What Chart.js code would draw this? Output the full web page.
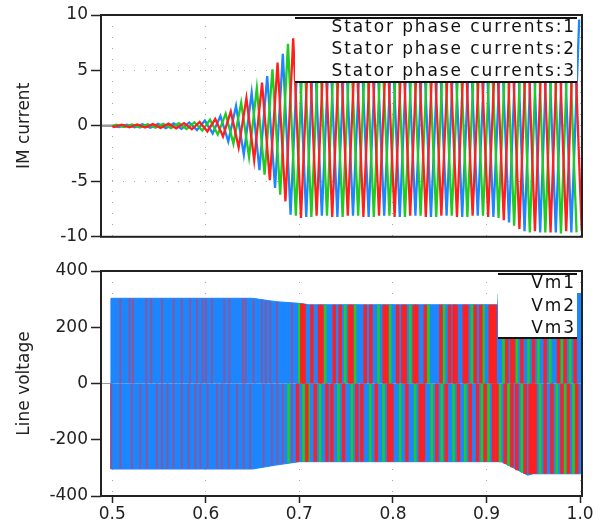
<!DOCTYPE html>
<html>
<head>
<meta charset="utf-8">
<script src="https://cdn.jsdelivr.net/npm/chart.js@4.4.1/dist/chart.umd.min.js"></script>
<style>
  html, body { margin: 0; padding: 0; background: #fff; }
  #wrap { position: relative; width: 608px; height: 525px; }
  .pane { position: absolute; left: 0; width: 608px; }
</style>
</head>
<body>
<div id="wrap">
  <div class="pane" style="top:0;height:250px"><canvas id="cur"></canvas></div>
  <div class="pane" style="top:250px;height:275px"><canvas id="volt"></canvas></div>
</div>
<script>
// ---- data ----
const timeTicks = [0.5, 0.6, 0.7, 0.8, 0.9, 1.0];
const currentTicks = [-10, -5, 0, 5, 10];
const voltageTicks = [-400, -200, 0, 200, 400];
const currentNames = ["Stator phase currents:1", "Stator phase currents:2", "Stator phase currents:3"];
const voltageNames = ["Vm1", "Vm2", "Vm3"];

// stator currents: [time, extreme value] per half cycle
const current1 = [
  [0.488, 0], [0.500, 0], [0.5017, -0.10], [0.5101, 0.11], [0.5184, -0.12], [0.5267, 0.13], [0.5351, -0.15],
  [0.5434, 0.16], [0.5517, -0.18], [0.5601, 0.20], [0.5684, -0.23], [0.5767, 0.25], [0.5851, -0.30],
  [0.5934, 0.36], [0.6017, -0.50], [0.6101, 0.62], [0.6184, -0.95], [0.6267, 1.30], [0.6351, -1.95],
  [0.6434, 2.50], [0.6517, -3.10], [0.6601, 3.90], [0.6684, -4.90], [0.6767, 5.70], [0.6851, -6.80],
  [0.6934, 7.90], [0.7017, -8.30], [0.7101, 8.2], [0.7184, -8.1], [0.7267, 8.2], [0.7351, -8.2],
  [0.7434, 8.2], [0.7517, -8.1], [0.7601, 8.2], [0.7684, -8.2], [0.7767, 8.2], [0.7851, -8.1],
  [0.7934, 8.2], [0.8017, -8.2], [0.8101, 8.2], [0.8184, -8.1], [0.8267, 8.2], [0.8351, -8.2],
  [0.8434, 8.2], [0.8517, -8.1], [0.8601, 8.2], [0.8684, -8.2], [0.8767, 8.2], [0.8851, -8.1],
  [0.8934, 8.2], [0.9017, -8.2], [0.9101, 8.3], [0.9184, -8.5], [0.9267, 8.9], [0.9351, -9.3],
  [0.9434, 9.5], [0.9517, -9.5], [0.9601, 9.5], [0.9684, -9.6], [0.9767, 9.5], [0.9851, -9.5],
  [0.9934, 9.5], [1.0017, -9.5]
];
const current2 = [
  [0.488, 0], [0.500, 0], [0.5045, 0.10], [0.5128, -0.11], [0.5212, 0.12], [0.5295, -0.14], [0.5378, 0.15],
  [0.5462, -0.17], [0.5545, 0.19], [0.5628, -0.21], [0.5712, 0.24], [0.5795, -0.28], [0.5878, 0.33],
  [0.5962, -0.42], [0.6045, 0.55], [0.6128, -0.78], [0.6212, 1.10], [0.6295, -1.60], [0.6378, 2.10],
  [0.6462, -2.80], [0.6545, 3.40], [0.6628, -4.40], [0.6712, 5.10], [0.6795, -6.20], [0.6878, 7.40],
  [0.6962, -8.10], [0.7045, 8.2], [0.7128, -8.2], [0.7212, 8.2], [0.7295, -8.1], [0.7378, 8.2],
  [0.7462, -8.2], [0.7545, 8.2], [0.7628, -8.1], [0.7712, 8.2], [0.7795, -8.2], [0.7878, 8.2],
  [0.7962, -8.1], [0.8045, 8.2], [0.8128, -8.2], [0.8212, 8.2], [0.8295, -8.1], [0.8378, 8.2],
  [0.8462, -8.2], [0.8545, 8.2], [0.8628, -8.1], [0.8712, 8.2], [0.8795, -8.2], [0.8878, 8.2],
  [0.8962, -8.1], [0.9045, 8.2], [0.9128, -8.3], [0.9212, 8.6], [0.9295, -9.0], [0.9378, 9.4],
  [0.9462, -9.6], [0.9545, 9.5], [0.9628, -9.6], [0.9712, 9.5], [0.9795, -9.7], [0.9878, 9.5],
  [0.9962, -9.6]
];
const current3 = [
  [0.488, 0], [0.500, 0], [0.5073, -0.10], [0.5156, 0.11], [0.5240, -0.13], [0.5323, 0.14], [0.5406, -0.16],
  [0.5490, 0.18], [0.5573, -0.20], [0.5656, 0.22], [0.5740, -0.26], [0.5823, 0.30], [0.5906, -0.38],
  [0.5990, 0.48], [0.6073, -0.68], [0.6156, 0.90], [0.6240, -1.40], [0.6323, 1.80], [0.6406, -2.60],
  [0.6490, 3.00], [0.6573, -4.00], [0.6656, 4.50], [0.6740, -5.60], [0.6823, 6.50], [0.6906, -8.00],
  [0.6990, 8.2], [0.7073, -8.2], [0.7156, 8.2], [0.7240, -8.1], [0.7323, 8.2], [0.7406, -8.2],
  [0.7490, 8.2], [0.7573, -8.1], [0.7656, 8.2], [0.7740, -8.2], [0.7823, 8.2], [0.7906, -8.1],
  [0.7990, 8.2], [0.8073, -8.2], [0.8156, 8.2], [0.8240, -8.1], [0.8323, 8.2], [0.8406, -8.2],
  [0.8490, 8.2], [0.8573, -8.1], [0.8656, 8.2], [0.8740, -8.2], [0.8823, 8.2], [0.8906, -8.1],
  [0.8990, 8.2], [0.9073, -8.2], [0.9156, 8.4], [0.9240, -8.7], [0.9323, 9.1], [0.9406, -9.5],
  [0.9490, 9.5], [0.9573, -9.6], [0.9656, 9.5], [0.9740, -9.6], [0.9823, 9.5], [0.9906, -9.6],
  [0.9990, 9.6]
];

// line voltages: Vm3 is seen as a solid switching band (upper / lower envelope),
// Vm1 and Vm2 show through as single pulses [time, pulse value]
const vm3Upper = [
  [0.488, 0], [0.4985, 0], [0.4986, 303], [0.650, 303], [0.675, 291], [0.700, 285], [0.710, 280],
  [0.912, 280], [0.9125, 320], [1.002, 320]
];
const vm3Lower = [
  [0.488, 0], [0.4985, 0], [0.4986, -304], [0.650, -304], [0.675, -290], [0.700, -278], [0.916, -278],
  [0.944, -326], [0.950, -321], [1.002, -321]
];
const vm1Pulses = [
  [0.5086, 303], [0.5185, 303], [0.5221, 303], [0.5363, 303], [0.5417, 303], [0.5531, 303], [0.5655, 303],
  [0.5744, 303], [0.5833, 303], [0.5905, 303], [0.5965, 303], [0.6001, 303], [0.6065, 303], [0.6197, 303],
  [0.6254, 303], [0.6396, 303], [0.6425, 303], [0.6510, 298], [0.6599, 295], [0.6642, 294], [0.6688, 292],
  [0.6759, 290], [0.6920, 286], [0.7026, 284], [0.7040, 283], [0.7050, 283],
  [0.7133, 280], [0.7215, 280], [0.7240, 280], [0.7372, 280], [0.7436, 280], [0.7536, 280], [0.7561, 280],
  [0.7703, 280], [0.7764, 280], [0.7906, 280], [0.7935, 280], [0.8049, 280], [0.8106, 280], [0.8131, 280],
  [0.8227, 280], [0.8255, 280], [0.8344, 280], [0.8512, 280], [0.8604, 280], [0.8654, 280], [0.8675, 280],
  [0.8761, 280], [0.8789, 280], [0.8879, 280], [0.8939, 280], [0.9039, 280], [0.9067, 280], [0.9092, 280],
  [0.9217, 320], [0.9270, 320], [0.9288, 320], [0.9377, 320], [0.9502, 320], [0.9626, 320], [0.9769, 320],
  [0.9840, 320], [0.9947, 320],
  [0.4990, -304], [0.5086, -304], [0.5210, -304], [0.5299, -304], [0.5370, -304], [0.5477, -304],
  [0.5531, -304], [0.5591, -304], [0.5655, -304], [0.5744, -304], [0.5816, -304], [0.5887, -304],
  [0.5940, -304], [0.6019, -304], [0.6118, -304], [0.6172, -304], [0.6243, -304], [0.6332, -304],
  [0.6403, -304], [0.6474, -304], [0.6617, -296], [0.6706, -292], [0.6766, -288], [0.6823, -284],
  [0.6920, -280], [0.6980, -278],
  [0.7080, -278], [0.7169, -278], [0.7294, -278], [0.7347, -278], [0.7472, -278], [0.7614, -278],
  [0.7668, -278], [0.7821, -278], [0.7953, -278], [0.7988, -278], [0.8148, -278], [0.8291, -278],
  [0.8326, -278], [0.8469, -278], [0.8569, -278], [0.8700, -278], [0.8825, -278], [0.8903, -278],
  [0.8985, -278], [0.9074, -278], [0.9110, -278],
  [0.9199, -285], [0.9270, -298], [0.9324, -308], [0.9413, -322], [0.9466, -322], [0.9493, -321],
  [0.9520, -321], [0.9626, -321], [0.9698, -321], [0.9805, -321], [0.9876, -321], [0.9965, -321]
];
const vm2Pulses = [
  [0.6999, 285], [0.7276, 280], [0.7490, 280], [0.7596, 280], [0.7846, 280], [0.7970, 280], [0.8184, 280],
  [0.8380, 280], [0.8547, 280], [0.8843, 280], [0.8967, 280],
  [0.9181, 320], [0.9324, 320], [0.9448, 320], [0.9555, 320], [0.9680, 320], [0.9805, 320], [0.9894, 320],
  [0.6884, -282], [0.7044, -278], [0.7098, -278], [0.7222, -278], [0.7418, -278], [0.7561, -278],
  [0.7757, -278], [0.7899, -278], [0.8077, -278], [0.8237, -278], [0.8415, -278], [0.8522, -278],
  [0.8647, -278], [0.8772, -278], [0.8950, -278],
  [0.9021, -278], [0.9146, -280], [0.9235, -292], [0.9377, -316], [0.9573, -321], [0.9751, -321],
  [0.9840, -321], [0.9929, -321]
];

// ---- styling ----
const RED = "#ff1f1f";
const GREEN = "#1fcc1f";
const BLUE = "#1c86ff";
const FONT = "'DejaVu Sans', sans-serif";

Chart.defaults.font.family = FONT;
Chart.defaults.font.size = 17;
Chart.defaults.color = "#222";

const toXY = (rows) => rows.map(([x, y]) => ({ x, y }));
const toPulses = (rows) => rows.flatMap(([x, y]) => [{ x, y: 0 }, { x, y }, { x, y: null }]);
const zeroGray = (c) => (c.p0.parsed.y === 0 && c.p1.parsed.y === 0 ? "#9a9a9a" : undefined);

const boxLegend = {
  id: "boxLegend",
  afterDatasetsDraw(chart, args, o) {
    const { ctx, chartArea: a } = chart;
    const r = a.right - o.right;
    const t = a.top + o.top;
    const l = r - o.width;
    const b = t + o.height;
    ctx.save();
    ctx.fillStyle = "#fff";
    ctx.fillRect(l, t, r - l, b - t);
    ctx.strokeStyle = "#111";
    ctx.lineWidth = 2;
    ctx.beginPath();
    ctx.moveTo(l, t); ctx.lineTo(r, t);
    ctx.moveTo(l, b); ctx.lineTo(r, b);
    ctx.stroke();
    ctx.font = "17px " + FONT;
    ctx.letterSpacing = o.spacing + "px";
    ctx.fillStyle = "#111";
    ctx.textAlign = "right";
    ctx.textBaseline = "middle";
    o.labels.forEach((s, i) => ctx.fillText(s, r - 1, t + 10 + i * o.step));
    ctx.restore();
  },
};

const frame = {
  id: "frame",
  afterDraw(chart) {
    const { ctx, chartArea: a } = chart;
    ctx.save();
    ctx.strokeStyle = "#222";
    ctx.lineWidth = 2;
    ctx.strokeRect(a.left, a.top, a.right - a.left, a.bottom - a.top);
    ctx.restore();
  },
};

function xScale(showTicks) {
  return {
    type: "linear",
    min: 0.488,
    max: 1.002,
    afterBuildTicks: (s) => { s.ticks = timeTicks.map((v) => ({ value: v })); },
    afterFit: (s) => { s.height = showTicks ? 29 : 0; },
    grid: { color: "#a8a8a8", lineWidth: 1, drawTicks: showTicks, tickLength: 7, tickColor: "#222", tickWidth: 1.5 },
    border: { display: false, dash: [1, 10] },
    ticks: { display: showTicks, padding: 1, callback: (v) => v.toFixed(1), maxRotation: 0 },
  };
}

function yScale(title, tickValues) {
  return {
    type: "linear",
    min: tickValues[0],
    max: tickValues[tickValues.length - 1],
    afterBuildTicks: (s) => { s.ticks = tickValues.map((v) => ({ value: v })); },
    afterFit: (s) => { s.width = 101; },
    grid: { color: "#a8a8a8", lineWidth: 1, tickLength: 10, tickColor: "#222", tickWidth: 1.5 },
    border: { display: false, dash: [1, 10] },
    ticks: { padding: 3 },
    title: { display: true, text: title, padding: { top: 14, bottom: 0 } },
  };
}

new Chart(document.getElementById("cur"), {
  type: "line",
  data: {
    datasets: [current1, current2, current3].map((rows, i) => ({
      label: currentNames[i],
      data: toXY(rows),
      borderColor: [RED, GREEN, BLUE][i],
      borderWidth: 2.3,
      pointRadius: 0,
      tension: 0,
      segment: { borderColor: zeroGray },
    })),
  },
  options: {
    animation: false,
    responsive: true,
    maintainAspectRatio: false,
    parsing: false,
    layout: { padding: { top: 15, right: 26, bottom: 10, left: 0 } },
    plugins: {
      legend: { display: false },
      tooltip: { enabled: false },
      boxLegend: { labels: currentNames, right: 5, top: 3, width: 282, height: 64, step: 22, spacing: 1.9 },
    },
    scales: { x: xScale(false), y: yScale("IM current", currentTicks) },
  },
  plugins: [boxLegend, frame],
});

const early = (c) => c.p0.parsed.x < 0.695;

new Chart(document.getElementById("volt"), {
  type: "line",
  data: {
    datasets: [
      {
        label: voltageNames[0],
        data: toPulses(vm1Pulses),
        borderColor: RED,
        borderWidth: 3.4,
        pointRadius: 0,
        segment: {
          borderColor: (c) => (early(c) ? "rgba(235,45,70,0.55)" : undefined),
          borderWidth: (c) => (early(c) ? 1.9 : undefined),
        },
      },
      {
        label: voltageNames[1],
        data: toPulses(vm2Pulses),
        borderColor: GREEN,
        borderWidth: 2.6,
        pointRadius: 0,
      },
      {
        label: voltageNames[2],
        data: toXY(vm3Upper),
        borderColor: BLUE,
        backgroundColor: BLUE,
        borderWidth: 1,
        pointRadius: 0,
        fill: "origin",
        segment: { borderColor: zeroGray },
      },
      {
        label: "",
        data: toXY(vm3Lower),
        borderColor: BLUE,
        backgroundColor: BLUE,
        borderWidth: 1,
        pointRadius: 0,
        fill: "origin",
        segment: { borderColor: zeroGray },
      },
    ],
  },
  options: {
    animation: false,
    responsive: true,
    maintainAspectRatio: false,
    parsing: false,
    layout: { padding: { top: 21, right: 26, bottom: 0, left: 0 } },
    plugins: {
      legend: { display: false },
      tooltip: { enabled: false },
      boxLegend: { labels: voltageNames, right: 5, top: 3, width: 79, height: 64, step: 22.4, spacing: 1.9 },
    },
    scales: { x: xScale(true), y: yScale("Line voltage", voltageTicks) },
  },
  plugins: [boxLegend, frame],
});
</script>
</body>
</html>
